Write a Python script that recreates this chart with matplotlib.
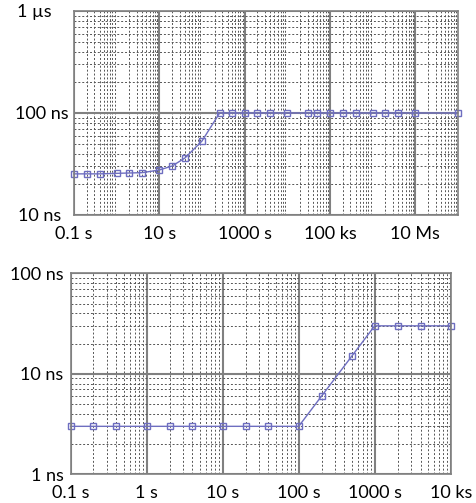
import matplotlib
matplotlib.use("Agg")
import matplotlib.pyplot as plt
import matplotlib.transforms as mtransforms
import numpy as np

plt.rcParams['font.family'] = ['Lato', 'DejaVu Sans']

# top chart: time (s) vs delay (ns)
top_t = [0.1, 0.2, 0.4, 1, 2, 4, 10, 20, 40, 100, 260, 500, 1000, 2000, 4000,
         1e4, 3e4, 5e4, 1e5, 2e5, 4e5, 1e6, 2e6, 4e6, 1e7, 1e8]
top_ns = [25.3, 25.3, 25.3, 25.6, 25.8, 26.0, 27.6, 30.2, 36.2, 53, 100, 100,
          100, 100, 100, 100, 100, 100, 100, 100, 100, 100, 100, 100, 100, 100]
top_xticks = [0.1, 10, 1000, 1e5, 1e7]
top_xlabels = ["0.1 s", "10 s", "1000 s", "100 ks", "10 Ms"]
top_yticks = [10, 100, 1000]
top_ylabels = ["10 ns", "100 ns", "1 µs"]

# bottom chart
bot_t = [0.1, 0.2, 0.4, 1, 2, 4, 10, 20, 40, 100, 200, 500, 1000, 2000, 4000, 1e4]
bot_ns = [3, 3, 3, 3, 3, 3, 3, 3, 3, 3, 6, 15, 30, 30, 30, 30]
bot_xticks = [0.1, 1, 10, 100, 1000, 1e4]
bot_xlabels = ["0.1 s", "1 s", "10 s", "100 s", "1000 s", "10 ks"]
bot_yticks = [1, 10, 100]
bot_ylabels = ["1 ns", "10 ns", "100 ns"]

LINE = "#6e6ec0"
FS = 13


def style_axes(ax, xlim, ylim, ypad):
    """log-log axes with excel like grid"""
    ax.set_xscale("log")
    ax.set_yscale("log")
    ax.set_xlim(*xlim)
    ax.set_ylim(*ylim)
    ax.xaxis.set_minor_locator(matplotlib.ticker.LogLocator(base=10, subs=np.arange(2, 10), numticks=50))
    ax.yaxis.set_minor_locator(matplotlib.ticker.LogLocator(base=10, subs=np.arange(2, 10), numticks=50))
    ax.xaxis.set_minor_formatter(matplotlib.ticker.NullFormatter())
    ax.yaxis.set_minor_formatter(matplotlib.ticker.NullFormatter())
    ax.grid(which="major", color="#808080", linewidth=1.5, linestyle="-")
    ax.grid(which="minor", color="#555555", linewidth=0.7, linestyle=(0, (2, 2)))
    ax.tick_params(which="both", length=0, labelsize=FS)
    ax.tick_params(axis="x", pad=8)
    ax.tick_params(axis="y", pad=ypad)
    ax.set_axisbelow(True)
    for s in ax.spines.values():
        s.set_color("#808080")
        s.set_linewidth(1.2)


def draw_series(ax, t, ns):
    ax.plot(t, ns, color=LINE, linewidth=1, marker="s", markersize=4,
            markerfacecolor="none", markeredgecolor=LINE, markeredgewidth=1, clip_on=False)


fig = plt.figure(figsize=(4.77, 5.03), dpi=100)

ax1 = fig.add_axes([0.155, 0.5726, 0.805, 0.4056])
style_axes(ax1, (0.1, 1e8), (10, 1000), ypad=3.5)
draw_series(ax1, top_t, top_ns)
ax1.set_xticks(top_xticks)
ax1.set_xticklabels(top_xlabels)
ax1.set_yticks(top_yticks)
ax1.set_yticklabels(top_ylabels)
# the outer labels sit a bit further left in the original
shifts = [-8, 0, -17]
for lab, dx in zip(ax1.get_yticklabels(), shifts):
    lab.set_transform(lab.get_transform() + mtransforms.ScaledTranslation(dx / 100, 0, fig.dpi_scale_trans))

ax2 = fig.add_axes([0.148, 0.0571, 0.797, 0.3996])
style_axes(ax2, (0.1, 1e4), (1, 100), ypad=5)
draw_series(ax2, bot_t, bot_ns)
ax2.set_xticks(bot_xticks)
ax2.set_xticklabels(bot_xlabels)
ax2.set_yticks(bot_yticks)
ax2.set_yticklabels(bot_ylabels)

fig.savefig("out.png", dpi=100, facecolor="white")
